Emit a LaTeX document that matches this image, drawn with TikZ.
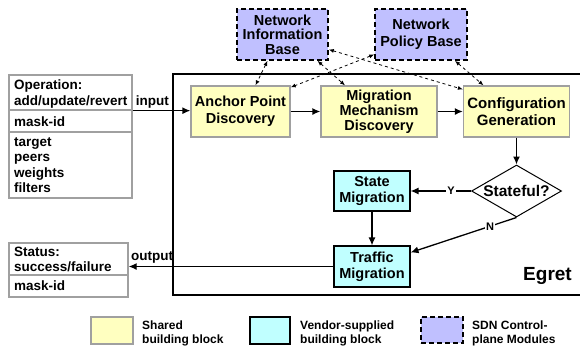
\documentclass[tikz,border=0pt]{standalone}
\usepackage{fontspec}
\setmainfont{Liberation Sans}
\usetikzlibrary{arrows.meta,shapes.geometric}
\definecolor{sharedfill}{HTML}{FFFFC0}
\definecolor{vendorfill}{HTML}{C0FFFF}
\definecolor{sdnfill}{HTML}{C0C0FF}
\definecolor{framegray}{HTML}{A0A0A0}
\begin{document}
\begin{tikzpicture}[x=1pt,y=-1pt,
  boxfont/.style={font=\fontsize{14.5}{15}\selectfont\bfseries},
  shared/.style={boxfont, draw=framegray, line width=1.3pt, fill=sharedfill, align=center, inner sep=0pt},
  vendor/.style={boxfont, draw=black, line width=1.1pt, fill=vendorfill, align=center, inner sep=0pt},
  sdn/.style={boxfont, draw=black, dash pattern=on 5pt off 3pt, line width=1.6pt, fill=sdnfill, align=center, inner sep=0pt},
  iobox/.style={draw=framegray, line width=1.3pt, fill=white, inner sep=0pt},
  iotext/.style={anchor=base west, font=\fontsize{13.5}{16}\selectfont\bfseries, inner sep=0pt},
  legtext/.style={anchor=west, align=left, font=\fontsize{12}{14}\selectfont\bfseries, inner sep=0pt},
  flow/.style={-{Latex[length=8pt,width=7pt]}, line width=1.3pt},
  link/.style={{Latex[length=5pt,width=4pt]}-{Latex[length=5pt,width=4pt]}, dashed, line width=0.8pt},
  yn/.style={fill=white, inner sep=1.5pt, font=\fontsize{11}{12}\selectfont\bfseries},
]
\useasboundingbox (0,0) rectangle (580,349);

% Egret frame (open on the right)
\draw[line width=1.8pt] (580,74) -- (173,74) -- (173,295) -- (580,295);
\node[anchor=base east, font=\fontsize{19}{20}\selectfont\bfseries, inner sep=0pt] (egret) at (572,280) {Egret};

% SDN control-plane modules
\node[sdn, minimum width=91pt, minimum height=51pt, font=\fontsize{14.5}{14.5}\selectfont\bfseries] (nib) at (282.5,34.5) {Network\\Information\\Base};
\node[sdn, minimum width=92pt, minimum height=51pt, font=\fontsize{14.5}{17}\selectfont\bfseries] (npb) at (421,34.5) {Network\\Policy Base};

% Shared building blocks
\node[shared, minimum width=99pt, minimum height=51pt, font=\fontsize{14.5}{17}\selectfont\bfseries] (anchor) at (240.5,111.5) {Anchor Point\\Discovery};
\node[shared, minimum width=116pt, minimum height=51pt] (mmd) at (379,111.5) {Migration\\Mechanism\\Discovery};
\node[shared, minimum width=106pt, minimum height=51pt, font=\fontsize{15}{17}\selectfont\bfseries] (config) at (516.5,111.5) {Configuration\\Generation};

% Decision and vendor-supplied blocks
\node[diamond, draw=black, line width=1pt, fill=white, aspect=1.73, minimum width=90pt, minimum height=52pt, inner sep=0pt, font=\fontsize{15.5}{16}\selectfont\bfseries] (dia) at (516.5,191) {Stateful?};
\node[vendor, minimum width=76pt, minimum height=40pt, font=\fontsize{14.5}{16}\selectfont\bfseries] (state) at (372,191) {State\\Migration};
\node[vendor, minimum width=76pt, minimum height=41pt, font=\fontsize{14.5}{16}\selectfont\bfseries] (traffic) at (372,266.5) {Traffic\\Migration};

% Input record
\node[iobox, minimum width=123pt, minimum height=35pt] (opbox) at (70.5,92.5) {};
\node[iobox, minimum width=123pt, minimum height=22pt] (maskbox) at (70.5,121) {};
\node[iobox, minimum width=123pt, minimum height=66pt] (argbox) at (70.5,165) {};
\node[iotext] (opname) at (14,89.5) {Operation:};
\node[iotext] (opkind) at (14,105.5) {add/update/revert};
\node[iotext] (maskin) at (14,126) {mask-id};
\node[iotext] (tgt) at (14,146) {target};
\node[iotext] (peers) at (14,161.5) {peers};
\node[iotext] (weights) at (14,177) {weights};
\node[iotext] (filters) at (14,192.5) {filters};

% Output record
\node[iobox, minimum width=119pt, minimum height=32pt] (statbox) at (68.5,259) {};
\node[iobox, minimum width=119pt, minimum height=22pt] (maskout) at (68.5,286) {};
\node[iotext] (statname) at (14,256) {Status:};
\node[iotext] (statkind) at (14,271) {success/failure};
\node[iotext] (maskid) at (14,290.5) {mask-id};

% Main flow
\draw[flow] (opbox.south east) -- node[pos=0.34, above, inner sep=2pt, font=\fontsize{13.5}{14}\selectfont\bfseries] {input} (opbox.south east -| anchor.west);
\draw[flow] (anchor) -- (mmd);
\draw[flow] (mmd) -- (config);
\draw[flow] (config) -- (dia);
\draw[flow] (dia.west) -- node[yn, pos=0.33] {Y} (state.east);
\draw[flow] (dia.south) -- node[yn, pos=0.25] {N} ([yshift=14pt]traffic.east);
\draw[flow] (state) -- (traffic);
\draw[flow] (traffic.west) -- node[pos=0.886, above, inner sep=3pt, font=\fontsize{13.5}{14}\selectfont\bfseries] {output} (traffic.west -| statbox.east);

% Control-plane lookups
\draw[link] ([xshift=-15pt]nib.south) -- ([xshift=15pt]anchor.north);
\draw[link] ([xshift=35pt]nib.south) -- ([xshift=-34pt]mmd.north);
\draw[link] ([yshift=-15pt]nib.east) -- ([yshift=-4pt]config.north west);
\draw[link] ([yshift=-20pt]npb.west) -- ([yshift=-2pt]anchor.north east);
\draw[link] ([xshift=34pt]npb.south) -- ([xshift=-33pt]config.north);

% Legend
\node[draw=framegray, line width=1.3pt, fill=sharedfill, minimum width=42pt, minimum height=27pt, inner sep=0pt] (legshared) at (112,330.5) {};
\node[legtext] (legsharedtxt) at (142,333) {Shared\\building block};
\node[draw=black, line width=1.3pt, fill=vendorfill, minimum width=40pt, minimum height=27pt, inner sep=0pt] (legvendor) at (270,330.5) {};
\node[legtext] (legvendortxt) at (300,333) {Vendor-supplied\\building block};
\node[draw=black, dash pattern=on 5pt off 3pt, line width=1.6pt, fill=sdnfill, minimum width=42pt, minimum height=26pt, inner sep=0pt] (legsdn) at (442,330) {};
\node[legtext] (legsdntxt) at (472,333) {SDN Control-\\plane Modules};
\end{tikzpicture}
\end{document}
